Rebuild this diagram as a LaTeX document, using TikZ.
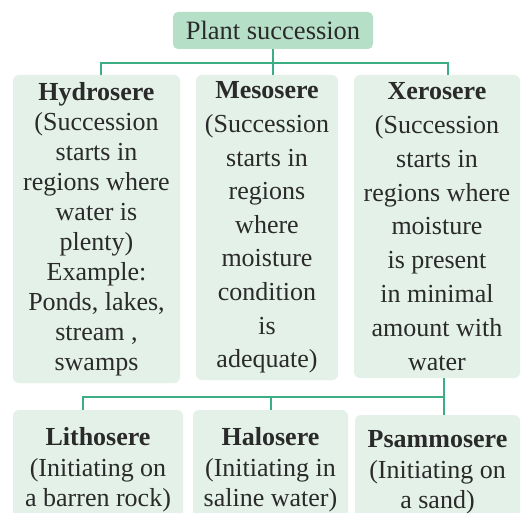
\documentclass[tikz,border=0pt]{standalone}
\usepackage{fontspec}
\setmainfont{Liberation Serif}
\definecolor{linegreen}{HTML}{3DAE84}
\definecolor{titlefill}{HTML}{B5DFC6}
\definecolor{boxfill}{HTML}{E3F1E8}
\definecolor{textgray}{HTML}{2A2A2A}
\tikzset{
  titlebox/.style={fill=titlefill, rounded corners=5pt, inner sep=0pt, align=center,
    text=textgray, font=\fontsize{26.5}{30}\selectfont},
  sbox/.style={fill=boxfill, rounded corners=6pt, inner sep=0pt, align=center,
    text=textgray},
  conn/.style={draw=linegreen, line width=2pt}
}
\begin{document}
\begin{tikzpicture}[x=1pt,y=-1pt]
\fill[white] (0,0) rectangle (524,513);
\useasboundingbox (0,0) rectangle (524,513);

\node[titlebox, minimum width=200pt, minimum height=37pt] (title) at (273,30.5) {Plant succession};

\node[sbox, minimum width=167pt, minimum height=308pt, font=\fontsize{26}{30}\selectfont] (hydro) at (96.5,229)
  {\textbf{Hydrosere}\\(Succession\\starts in\\regions where\\water is\\plenty)\\Example:\\Ponds, lakes,\\stream ,\\swamps};
\node[sbox, minimum width=142pt, minimum height=305pt, font=\fontsize{26}{33.6}\selectfont] (meso) at (267,227.5)
  {\textbf{Mesosere}\\(Succession\\starts in\\regions\\where\\moisture\\condition\\is\\adequate)};
\node[sbox, minimum width=166pt, minimum height=303pt, font=\fontsize{26}{33.8}\selectfont] (xero) at (437,226.5)
  {\textbf{Xerosere}\\(Succession\\starts in\\regions where\\moisture\\is present\\in minimal\\amount with\\water};

\node[sbox, minimum width=170pt, minimum height=120pt, font=\fontsize{26}{30.5}\selectfont] (litho) at (98,470)
  {\textbf{Lithosere}\\(Initiating on\\a barren rock)};
\node[sbox, minimum width=155pt, minimum height=120pt, font=\fontsize{26}{30.5}\selectfont] (halo) at (270.5,470)
  {\textbf{Halosere}\\(Initiating in\\saline water)};
\node[sbox, minimum width=165pt, minimum height=115pt, font=\fontsize{26}{30.5}\selectfont] (psam) at (437.5,472.5)
  {\textbf{Psammosere}\\(Initiating on\\a sand)};

\coordinate (bus1) at (273,63);
\draw[conn] (title.south) -- (bus1);
\draw[conn] ([xshift=4.5pt]hydro.north) |- (bus1);
\draw[conn] ([xshift=11pt]xero.north) |- (bus1);
\draw[conn] (bus1) -- (meso.north -| bus1);

\coordinate (bus2) at (444,397);
\draw[conn] ([xshift=7pt]xero.south) -- ([xshift=6.5pt]psam.north);
\draw[conn] ([xshift=-15pt]litho.north) |- (bus2);
\draw[conn] (halo.north) -- (halo.north |- bus2);
\end{tikzpicture}
\end{document}
